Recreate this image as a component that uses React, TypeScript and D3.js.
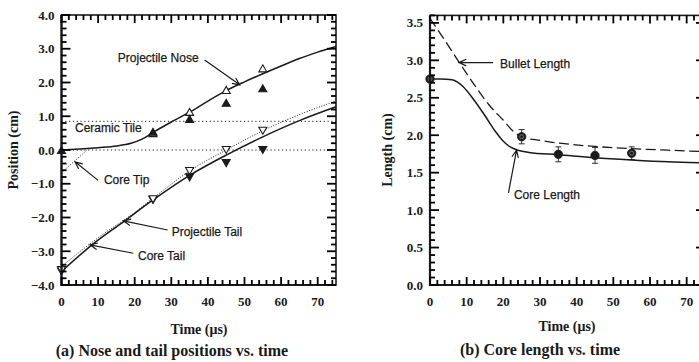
import React from "react";
import * as d3 from "d3";

// ---------- Panel (a) data ----------
const noseT = [0, 5, 10, 15, 19, 22, 25, 30, 35, 40, 45, 50, 55, 60, 65, 70, 75];
const noseV = [0, 0.03, 0.07, 0.12, 0.2, 0.32, 0.52, 0.83, 1.12, 1.45, 1.76, 2.02, 2.26, 2.49, 2.71, 2.9, 3.07];
const coreTailT = [0, 8, 17, 25, 35, 45, 55, 65, 75];
const coreTailV = [-3.6, -2.84, -2.12, -1.48, -0.75, -0.15, 0.39, 0.87, 1.28];
const projTailT = [0, 10, 20, 25, 35, 45, 55, 65, 75];
const projTailV = [-3.45, -2.6, -1.85, -1.43, -0.62, 0.0, 0.57, 1.05, 1.45];
const coreTipT = [0, 7];
const coreTipV = [-0.67, 0];
const refLines = [0, 0.85];

const upT = [0, 25, 35, 45, 55];
const upOpenV = [null, 0.5, 1.13, 1.78, 2.42];
const upFilledV = [0, 0.54, 0.92, 1.4, 1.83];
const downT = [0, 25, 35, 45, 55];
const downOpenV = [-3.56, -1.46, -0.62, 0.0, 0.57];
const downFilledV = [-3.6, -1.48, -0.81, -0.39, 0.0];

const aYTicks = [4, 3, 2, 1, 0, -1, -2, -3, -4];
const xTicks = [0, 10, 20, 30, 40, 50, 60, 70];

// ---------- Panel (b) data ----------
const bulletT = [0, 4, 8, 12, 16, 20, 23, 25, 30, 36, 45, 55, 65, 75];
const bulletV = [3.56, 3.27, 2.97, 2.68, 2.41, 2.2, 2.04, 1.98, 1.93, 1.89, 1.85, 1.82, 1.8, 1.78];
const coreLenT = [0, 3, 6, 7.5, 9, 12, 15, 18, 20, 22, 24, 27, 35, 45, 55, 65, 75];
const coreLenV = [2.75, 2.75, 2.74, 2.71, 2.65, 2.47, 2.26, 2.04, 1.92, 1.84, 1.8, 1.77, 1.74, 1.7, 1.67, 1.645, 1.63];
const measT = [0, 25, 35, 45, 55];
const measV = [2.75, 1.98, 1.745, 1.73, 1.76];
const measErr = [0, 0.095, 0.1, 0.105, 0.085];
const bYTicks = [0, 0.5, 1, 1.5, 2, 2.5, 3, 3.5];

// annotations [label, textT, textV, fromT, fromV, toT, toV]
const annotA: [string, number, number, number, number, number, number][] = [
  ["Projectile Nose", 15.4, 2.73, 39.1, 2.67, 48.7, 1.93],
  ["Ceramic Tile", 3.7, 0.65, NaN, NaN, NaN, NaN],
  ["Core Tip", 11.6, -0.89, 10, -0.9, 3.7, -0.35],
  ["Projectile Tail", 30.1, -2.42, 29, -2.37, 16.9, -2.1],
  ["Core Tail", 20.9, -3.14, 19.6, -3.06, 7.8, -2.81],
];
const annotB: [string, number, number, number, number, number, number][] = [
  ["Bullet Length", 19.1, 2.96, 17.2, 2.97, 7.9, 2.97],
  ["Core Length", 22.9, 1.2, 21.4, 1.23, 23.6, 1.8],
];

const INK = "#1a1a1a";
const SERIF = "'Liberation Serif','Times New Roman',serif";
const SANS = "'Liberation Sans',Arial,sans-serif";

function arrowPath(x1: number, y1: number, x2: number, y2: number) {
  const ang = Math.atan2(y1 - y2, x1 - x2);
  const L = 8, a = 0.42;
  const p1 = [x2 + L * Math.cos(ang + a), y2 + L * Math.sin(ang + a)];
  const p2 = [x2 + L * Math.cos(ang - a), y2 + L * Math.sin(ang - a)];
  return `M${x1},${y1}L${x2},${y2}M${p1[0]},${p1[1]}L${x2},${y2}L${p2[0]},${p2[1]}`;
}

type Tk = { k: string; x1: number; y1: number; x2: number; y2: number };

function tickList(sx: any, sy: any, xMinor: number[], yMinor: number[], yMajor: number[], tag: string): Tk[] {
  const xr = sx.range();
  const yr = sy.range();
  const L = xr[0], R = xr[1], B = yr[0], T = yr[1];
  const out: Tk[] = [];
  xMinor.forEach((t, i) => {
    const len = Math.abs(t % 10) < 1e-6 ? 8 : 5;
    const px = sx(t);
    out.push({ k: tag + "xb" + i, x1: px, y1: B, x2: px, y2: B - len });
    out.push({ k: tag + "xt" + i, x1: px, y1: T, x2: px, y2: T + len });
  });
  yMinor.forEach((v, i) => {
    const len = yMajor.some((m) => Math.abs(m - v) < 1e-6) ? 9 : 5;
    const py = sy(v);
    out.push({ k: tag + "yl" + i, x1: L, y1: py, x2: L + len, y2: py });
    out.push({ k: tag + "yr" + i, x1: R, y1: py, x2: R - len, y2: py });
  });
  return out;
}

function triPoints(cx: number, cy: number, up: boolean) {
  const w = 4, h = 7;
  return up
    ? `${cx - w},${cy + h / 2} ${cx + w},${cy + h / 2} ${cx},${cy - h / 2}`
    : `${cx - w},${cy - h / 2} ${cx + w},${cy - h / 2} ${cx},${cy + h / 2}`;
}

export default function App() {
  const xa = d3.scaleLinear().domain([0, 75]).range([61.5, 336]);
  const ya = d3.scaleLinear().domain([-4, 4]).range([285, 15]);
  const xb = d3.scaleLinear().domain([0, 75]).range([430, 705]);
  const yb = d3.scaleLinear().domain([0, 3.6]).range([285, 15.4]);

  const lineA = (ts: number[], vs: number[]) =>
    d3.line<number>().x((_, i) => xa(ts[i])).y((v) => ya(v)).curve(d3.curveMonotoneX)(vs) || "";
  const lineB = (ts: number[], vs: number[]) =>
    d3.line<number>().x((_, i) => xb(ts[i])).y((v) => yb(v)).curve(d3.curveMonotoneX)(vs) || "";

  const xMinor = d3.range(0, 76, 2);
  const aYMinor = d3.range(0, 41).map((i) => Math.round((-4 + i * 0.2) * 10) / 10);
  const bYMinor = d3.range(0, 37).map((i) => i / 10);
  const fmt = d3.format(".1f");

  const allTicks = [
    ...tickList(xa, ya, xMinor, aYMinor, aYTicks, "a"),
    ...tickList(xb, yb, xMinor, bYMinor, bYTicks, "b"),
  ];

  const panels = [
    { sx: xa, sy: ya, yMajor: aYTicks },
    { sx: xb, sy: yb, yMajor: bYTicks },
  ];

  return (
    <svg width={699} height={362} style={{ position: "absolute", left: 0, top: 0, display: "block" }}>
      <rect x={0} y={0} width={699} height={362} fill="white" />
      {refLines.map((v) => (
        <line key={"r" + v} x1={xa(0)} x2={xa(75)} y1={ya(v)} y2={ya(v)} stroke={INK} strokeWidth={1} strokeDasharray="1.2,2.6" />
      ))}
      <path d={lineA(noseT, noseV)} fill="none" stroke={INK} strokeWidth={1.5} />
      <path d={lineA(coreTailT, coreTailV)} fill="none" stroke={INK} strokeWidth={1.5} />
      <path d={lineA(projTailT, projTailV)} fill="none" stroke={INK} strokeWidth={1} strokeDasharray="1,1.6" />
      <path d={lineA(coreTipT, coreTipV)} fill="none" stroke={INK} strokeWidth={1} strokeDasharray="1,1.8" />
      {upT.map((t, i) => (
        <g key={"u" + i}>
          {upOpenV[i] !== null && (
            <polygon points={triPoints(xa(t), ya(upOpenV[i] as number), true)} fill="white" stroke={INK} strokeWidth={1.1} />
          )}
          <polygon points={triPoints(xa(t), ya(upFilledV[i]), true)} fill={INK} stroke={INK} strokeWidth={1.1} />
        </g>
      ))}
      {downT.map((t, i) => (
        <g key={"d" + i}>
          <polygon points={triPoints(xa(t), ya(downFilledV[i]), false)} fill={INK} stroke={INK} strokeWidth={1.1} />
          <polygon points={triPoints(xa(t), ya(downOpenV[i]), false)} fill="white" stroke={INK} strokeWidth={1.1} />
        </g>
      ))}

      <path d={lineB(bulletT, bulletV)} fill="none" stroke={INK} strokeWidth={1.3} strokeDasharray="10,4.5" />
      <path d={lineB(coreLenT, coreLenV)} fill="none" stroke={INK} strokeWidth={1.5} />
      {measT.map((t, i) => {
        const cx = xb(t);
        const lo = yb(measV[i] - measErr[i]);
        const hi = yb(measV[i] + measErr[i]);
        return (
          <g key={"m" + i}>
            {measErr[i] > 0 && (
              <path d={`M${cx},${lo}L${cx},${hi}M${cx - 3},${lo}L${cx + 3},${lo}M${cx - 3},${hi}L${cx + 3},${hi}`} stroke={INK} strokeWidth={0.9} fill="none" />
            )}
            <circle cx={cx} cy={yb(measV[i])} r={4.2} fill={INK} stroke={INK} strokeWidth={0.8} />
            {(i === 0 || i === 1 || i === 4) && <circle cx={cx} cy={yb(measV[i])} r={2} fill="none" stroke="#888" strokeWidth={0.8} />}
          </g>
        );
      })}

      {panels.map((p, k) => {
        const [L, R] = p.sx.range();
        const [B, T] = p.sy.range();
        return (
          <g key={"f" + k}>
            <rect x={L} y={T} width={R - L} height={B - T} fill="none" stroke={INK} strokeWidth={1.6} />
            <path d={`M${L},${T}L${L},${B}L${R},${B}`} stroke={INK} strokeWidth={2.2} fill="none" />
            {p.yMajor.map((v) => (
              <text key={"yt" + v} x={L - 7} y={p.sy(v)} dy="0.35em" textAnchor="end" fontFamily={SERIF} fontWeight="bold" fontSize={13} fill={INK}>
                {fmt(v)}
              </text>
            ))}
            {xTicks.map((t) => (
              <text key={"xl" + t} x={p.sx(t)} y={B + 21} textAnchor="middle" fontFamily={SERIF} fontWeight="bold" fontSize={13} fill={INK}>
                {t}
              </text>
            ))}
          </g>
        );
      })}

      {allTicks.map((tk) => (
        <line key={tk.k} x1={tk.x1} y1={tk.y1} x2={tk.x2} y2={tk.y2} stroke="#000" strokeWidth={1.8} />
      ))}

      {annotA.map(([label, tt, tv, ft, fv, et, ev]) => (
        <g key={label}>
          <text x={xa(tt)} y={ya(tv)} dy="0.35em" fontFamily={SANS} fontSize={12} fill={INK} stroke={INK} strokeWidth={0.25}>
            {label}
          </text>
          {!isNaN(ft) && <path d={arrowPath(xa(ft), ya(fv), xa(et), ya(ev))} stroke={INK} strokeWidth={1.2} fill="none" />}
        </g>
      ))}
      {annotB.map(([label, tt, tv, ft, fv, et, ev]) => (
        <g key={label}>
          <text x={xb(tt)} y={yb(tv)} dy="0.35em" fontFamily={SANS} fontSize={12} fill={INK} stroke={INK} strokeWidth={0.25}>
            {label}
          </text>
          <path d={arrowPath(xb(ft), yb(fv), xb(et), yb(ev))} stroke={INK} strokeWidth={1.2} fill="none" />
        </g>
      ))}

      <text transform="translate(13,150) rotate(-90)" dy="0.35em" textAnchor="middle" fontFamily={SERIF} fontWeight="bold" fontSize={14} fill={INK}>
        Position (cm)
      </text>
      <text x={199} y={334} textAnchor="middle" fontFamily={SERIF} fontWeight="bold" fontSize={14} fill={INK}>
        Time (μs)
      </text>
      <text x={172} y={356} textAnchor="middle" fontFamily={SERIF} fontWeight="bold" fontSize={16} fill={INK}>
        (a) Nose and tail positions vs. time
      </text>
      <text transform="translate(387,150) rotate(-90)" dy="0.35em" textAnchor="middle" fontFamily={SERIF} fontWeight="bold" fontSize={14} fill={INK}>
        Length (cm)
      </text>
      <text x={567} y={331} textAnchor="middle" fontFamily={SERIF} fontWeight="bold" fontSize={14} fill={INK}>
        Time (μs)
      </text>
      <text x={540} y={355} textAnchor="middle" fontFamily={SERIF} fontWeight="bold" fontSize={16} fill={INK}>
        (b) Core length vs. time
      </text>
    </svg>
  );
}
